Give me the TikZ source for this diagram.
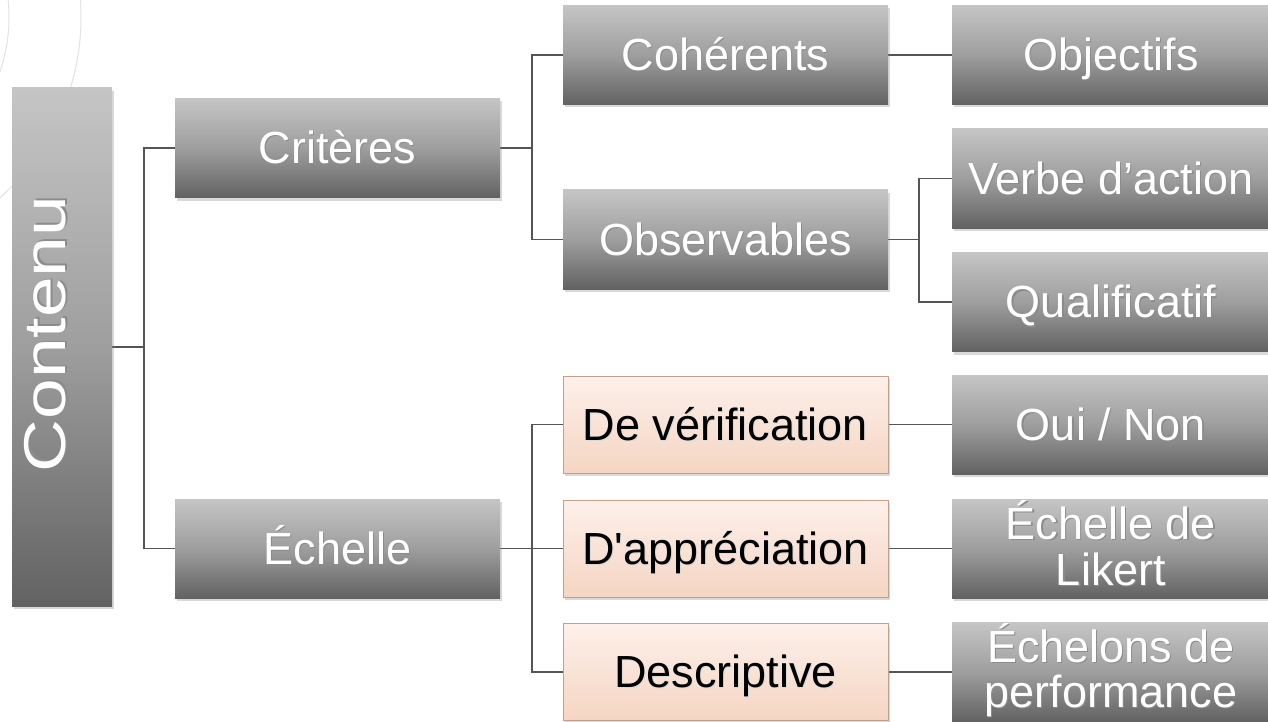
\documentclass[tikz,border=0pt]{standalone}
\usepackage{fontspec}
\setmainfont{Liberation Sans}[Ligatures=TeXOff]
\usetikzlibrary{shadows}
\pgfdeclarelayer{bg}
\pgfsetlayers{bg,main}
\definecolor{gtop}{RGB}{197,197,197}
\definecolor{gmid}{RGB}{158,158,158}
\definecolor{gbot}{RGB}{98,98,98}
\definecolor{ptop}{RGB}{253,240,234}
\definecolor{pbot}{RGB}{245,213,195}
\definecolor{pborder}{RGB}{196,160,140}
\definecolor{linec}{RGB}{85,85,85}
\definecolor{arcc}{RGB}{226,226,226}
\newcommand\shw[1]{\rlap{\kern1.2pt\raisebox{-1.4pt}{\textcolor{black!45}{#1}}}#1}
\newcommand\shb[1]{\rlap{\kern1pt\raisebox{-1.2pt}{\textcolor{black!15}{#1}}}#1}
\newcommand\twolines[3]{\vtop{\baselineskip=#3\lineskiplimit=-\maxdimen\halign{\hfil##\hfil\cr#1\cr#2\cr}}}
\tikzset{
  base/.style={rectangle, inner sep=0pt, minimum height=99pt,
    font=\fontsize{45}{38}\selectfont, text height=40.7pt, text depth=9.5pt,
    drop shadow={shadow xshift=1.5pt, shadow yshift=-3pt, opacity=0.3}},
  graybox/.style={base, top color=gtop, bottom color=gbot, middle color=gmid, text=white},
  peachbox/.style={base, top color=ptop, bottom color=pbot, draw=pborder, line width=1pt, text=black},
  midw/.style={minimum width=325pt},
  rightw/.style={minimum width=318pt},
  conn/.style={draw=linec, line width=1.5pt},
  lbl/.style={inner sep=0pt, text=white, font=\fontsize{45}{38}\selectfont}
}
\begin{document}
\begin{tikzpicture}[x=1pt, y=-1pt]
\useasboundingbox (0,0) rectangle (1268,722);
% nodes
\node[graybox, minimum width=100pt, minimum height=518pt] (contenu) at (62,347) {};
\node[rotate=90, inner sep=0pt, text=white, font=\fontsize{59}{60}\selectfont] (contenutxt) at (46,334) {\scalebox{1.24}[1]{\shw{Contenu}}};
\node[graybox, midw] (criteres) at (337.5,148) {\shw{Critères}};
\node[graybox, midw] (echelle) at (337.5,548.5) {\shw{Échelle}};
\node[graybox, midw] (coherents) at (725.5,55) {\shw{Cohérents}};
\node[graybox, midw] (observables) at (725.5,239.5) {\shw{Observables}};
\node[peachbox, midw, minimum height=97pt] (verif) at (725.5,424.5) {\shb{De vérification}};
\node[peachbox, midw, minimum height=97pt] (apprec) at (725.5,548.5) {\shb{D'appréciation}};
\node[peachbox, midw, minimum height=97pt] (descr) at (725.5,672) {\shb{Descriptive}};
\node[graybox, rightw] (objectifs) at (1111,55) {\shw{Objectifs}};
\node[graybox, rightw] (verbe) at (1111,178.5) {\shw{Verbe d’action}};
\node[graybox, rightw] (qualif) at (1111,302) {\shw{Qualificatif}};
\node[graybox, rightw] (oui) at (1111,424.5) {\shw{Oui / Non}};
\node[graybox, rightw] (likert) at (1111,548.5) {};
\node[lbl, anchor=base] (likerttxt) at (1111,539) {\twolines{\shw{Échelle de}}{\shw{Likert}}{46pt}};
\node[graybox, rightw] (echelons) at (1111,672) {};
\node[lbl, anchor=base] (echelonstxt) at (1111,662) {\twolines{\shw{Échelons de}}{\shw{performance}}{45pt}};
% background: arcs and connectors
\begin{pgfonlayer}{bg}
  \begin{scope}
    \clip (0,0) rectangle (1268,722);
    \draw[arcc, line width=1pt] (-161,17) circle (170);
    \draw[arcc, line width=1pt] (-161,17) circle (242);
  \end{scope}
  \draw[conn] (contenu.east) -- ++(32,0) |- (criteres.west);
  \draw[conn] (contenu.east) -- ++(32,0) |- (echelle.west);
  \draw[conn] (criteres.east) -- ++(32,0) |- (coherents.west);
  \draw[conn] (criteres.east) -- ++(32,0) |- (observables.west);
  \draw[conn] (coherents.east) -- (objectifs.west);
  \draw[conn] (observables.east) -- ++(31,0) |- (verbe.west);
  \draw[conn] (observables.east) -- ++(31,0) |- (qualif.west);
  \draw[conn] (echelle.east) -- ++(32,0) |- (verif.west);
  \draw[conn] (echelle.east) -- ++(32,0) |- (apprec.west);
  \draw[conn] (echelle.east) -- ++(32,0) |- (descr.west);
  \draw[conn] (verif.east) -- (oui.west);
  \draw[conn] (apprec.east) -- (likert.west);
  \draw[conn] (descr.east) -- (echelons.west);
\end{pgfonlayer}
\end{tikzpicture}
\end{document}
